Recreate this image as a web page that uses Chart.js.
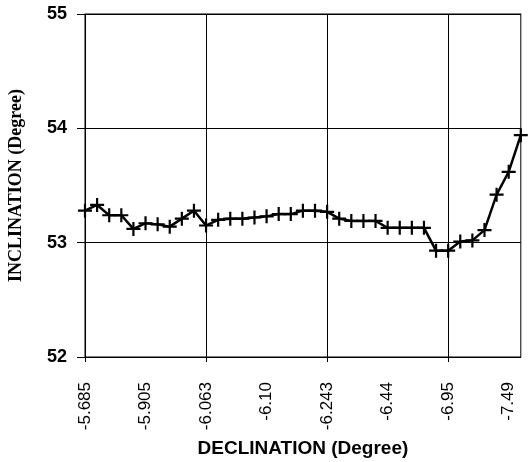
<!DOCTYPE html>
<html>
<head>
<meta charset="utf-8">
<title>Inclination vs Declination</title>
<script src="https://cdn.jsdelivr.net/npm/chart.js@4/dist/chart.umd.min.js"></script>
<style>
    html, body { margin: 0; padding: 0; background: #fff; }
    #wrap { width: 530px; height: 462px; position: relative; }
</style>
</head>
<body>
<div id="wrap"><canvas id="inclChart"></canvas></div>
<script>
// declination labels, one every 5th reading
const tickLabels = ['-5.685', '-5.905', '-6.063', '-6.10', '-6.243', '-6.44', '-6.95', '-7.49'];

// inclination readings (degree)
const inclination = [
    53.28, 53.33, 53.24, 53.24, 53.12, 53.17, 53.16, 53.14, 53.21, 53.28,
    53.15, 53.20, 53.21, 53.21, 53.22, 53.23, 53.25, 53.25, 53.28, 53.28,
    53.27, 53.21, 53.19, 53.19, 53.19, 53.13, 53.13, 53.13, 53.13, 52.93,
    52.93, 53.01, 53.02, 53.11, 53.42, 53.62, 53.94
];

const yTicks = [52, 53, 54, 55];

class InclinationChart {

    static config = {
        labelEvery: 5,
        gridEvery: 10,
        sans: "'Liberation Sans', Arial, sans-serif",
        serif: "'Liberation Serif', 'Times New Roman', serif"
    };

    static init() {
        const canvas = document.getElementById('inclChart');
        if (!canvas) return;

        const categories = inclination.map((v, i) =>
            i % this.config.labelEvery === 0 ? tickLabels[i / this.config.labelEvery] : '');

        this.render(canvas.getContext('2d'), categories);
    }

    static render(ctx, categories) {
        const cfg = this.config;

        // box round the plot area
        const frame = {
            id: 'frame',
            beforeDatasetsDraw(chart) {
                const { ctx, chartArea: a } = chart;
                ctx.save();
                ctx.strokeStyle = '#000';
                ctx.lineWidth = 1;
                ctx.strokeRect(a.left, a.top, a.right - a.left, a.bottom - a.top);
                ctx.restore();
            }
        };

        new Chart(ctx, {
            type: 'line',
            data: {
                labels: categories,
                datasets: [{
                    data: inclination,
                    borderColor: '#000',
                    borderWidth: 2.5,
                    tension: 0,
                    pointStyle: 'cross',
                    pointRadius: 7,
                    pointBorderWidth: 2.2,
                    pointBorderColor: '#000',
                    clip: false
                }]
            },
            options: {
                responsive: true,
                maintainAspectRatio: false,
                animation: false,
                layout: { padding: { top: 14, right: 2, left: 0, bottom: 0 } },
                plugins: {
                    legend: { display: false },
                    tooltip: { enabled: false }
                },
                scales: {
                    x: {
                        offset: false,
                        afterFit: (scale) => {
                            scale.height = 105;
                            scale.paddingLeft = 0;
                            scale.paddingRight = 0;
                        },
                        grid: {
                            color: (c) => c.index % cfg.gridEvery === 0 ? '#000' : 'rgba(0,0,0,0)',
                            lineWidth: 1,
                            tickLength: 5
                        },
                        border: { color: '#000' },
                        ticks: {
                            autoSkip: false,
                            maxRotation: 90,
                            minRotation: 90,
                            padding: 20,
                            color: '#000',
                            font: { family: cfg.sans, size: 17 }
                        },
                        title: {
                            display: true,
                            text: 'DECLINATION (Degree)',
                            color: '#000',
                            font: { family: cfg.sans, size: 19, weight: 'bold' },
                            padding: { top: 0, bottom: 2 }
                        }
                    },
                    y: {
                        min: yTicks[0],
                        max: yTicks[yTicks.length - 1],
                        afterFit: (scale) => {
                            scale.width = 85;
                            scale.paddingTop = 0;
                            scale.paddingBottom = 0;
                        },
                        afterBuildTicks: (scale) => { scale.ticks = yTicks.map(v => ({ value: v })); },
                        grid: { color: '#000', lineWidth: 1, tickLength: 8 },
                        border: { color: '#000' },
                        ticks: {
                            padding: 10,
                            color: '#000',
                            font: { family: cfg.sans, size: 18, weight: 'bold' }
                        },
                        title: {
                            display: true,
                            text: 'INCLINATION (Degree)',
                            color: '#000',
                            font: { family: cfg.serif, size: 18, weight: 'bold' },
                            padding: { top: 6, bottom: 0 }
                        }
                    }
                }
            },
            plugins: [frame]
        });
    }
}

document.addEventListener('DOMContentLoaded', () => InclinationChart.init());
</script>
</body>
</html>
